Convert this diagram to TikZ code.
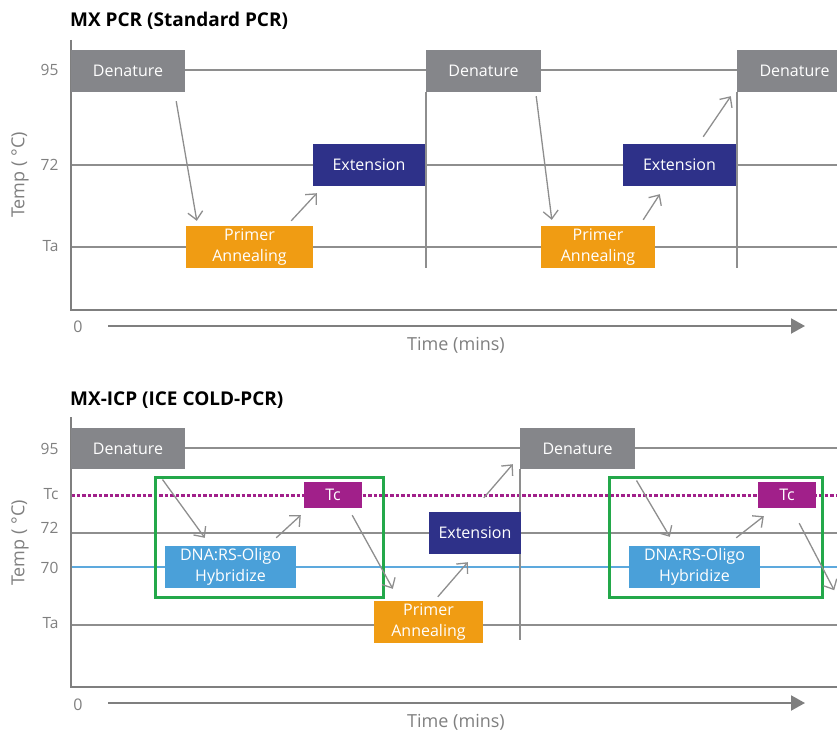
\documentclass[tikz,border=0pt]{standalone}
\usepackage{fontspec}
\setmainfont{Open Sans}
\usetikzlibrary{positioning, calc, arrows.meta}

\definecolor{boxgray}{HTML}{85868A}
\definecolor{annorange}{HTML}{F09C13}
\definecolor{extnavy}{HTML}{2E3189}
\definecolor{hybblue}{HTML}{4AA0D9}
\definecolor{tcpurple}{HTML}{A1208A}
\definecolor{wingreen}{HTML}{23A84A}
\definecolor{linegray}{HTML}{8E8E8E}
\definecolor{labelgray}{HTML}{7F7F7F}
\definecolor{seventyblue}{HTML}{5DA9DD}

\begin{document}
\begin{tikzpicture}[x=1pt, y=-1pt,
    stepbox/.style={rectangle, inner sep=0pt, text=white, align=center, font=\fontsize{16}{21}\selectfont},
    level/.style={linegray, line width=1.3pt},
    axis/.style={labelgray, line width=2.6pt},
    ticklabel/.style={anchor=east, text=labelgray, font=\fontsize{15.5}{18}\selectfont},
    axislabel/.style={text=labelgray, font=\fontsize{18}{20}\selectfont},
    title/.style={anchor=base west, inner sep=0pt, font=\fontsize{19}{22}\selectfont\bfseries},
    flow/.style={-{Straight Barb[length=8pt, width=15pt]}, linegray, line width=1.3pt},
    window/.style={draw=wingreen, line width=3pt, inner sep=0pt}]
    \useasboundingbox (0,0) rectangle (837,733);
    \clip (0,0) rectangle (837,733);

    % standard PCR
    \node [title] at (70,27) {MX PCR (Standard PCR)};
    \draw [level] (71,70) -- (837,70);
    \draw [level] (71,165) -- (837,165);
    \draw [level] (71,247) -- (837,247);
    \draw [level] (426,92) -- (426,268);
    \draw [level] (737,92) -- (737,268);
    \draw [axis] (71,40) -- (71,310) -- (837,310);
    \node [ticklabel] at (62,70) {95};
    \node [ticklabel] at (62,165) {72};
    \node [ticklabel] at (62,246) {Ta};
    \node [axislabel, rotate=90] at (20,175) {Temp ( °C)};
    \node [axislabel, font=\fontsize{16}{18}\selectfont] at (78,327) {0};
    \draw [labelgray, line width=2pt, -{Triangle[length=14pt, width=15pt]}] (108,326) -- (805,326);
    \node [axislabel] at (456,345) {Time (mins)};

    \node (den1) [stepbox, fill=boxgray, minimum width=114pt, minimum height=42pt] at (128,71) {Denature};
    \node (ann1) [stepbox, fill=annorange, minimum width=127pt, minimum height=42pt] at (249.5,247) {Primer\\Annealing};
    \node (ext1) [stepbox, fill=extnavy, minimum width=112pt, minimum height=42pt] at (369,165) {Extension};
    \node (den2) [stepbox, fill=boxgray, minimum width=115pt, minimum height=42pt] at (483.5,71) {Denature};
    \node (ann2) [stepbox, fill=annorange, minimum width=114pt, minimum height=42pt] at (598,247) {Primer\\Annealing};
    \node (ext2) [stepbox, fill=extnavy, minimum width=113pt, minimum height=42pt] at (679.5,165) {Extension};
    \node (den3) [stepbox, fill=boxgray, minimum width=115pt, minimum height=42pt] at (794.5,71) {Denature};

    \draw [flow] ($(den1.south east)+(-9,9)$) -- ($(ann1.north west)+(11,-5)$);
    \draw [flow] ($(ann1.north east)+(-22,-5)$) -- ($(ext1.south west)+(4,7)$);
    \draw [flow] ($(den2.south east)+(-5,4)$) -- ($(ann2.north west)+(11,-6)$);
    \draw [flow] ($(ann2.north east)+(-12,-6)$) -- ($(ext2.south west)+(37,8)$);
    \draw [flow] ($(ext2.north east)+(-33,-7)$) -- ($(den3.south west)+(-6,4)$);

    % ICE COLD-PCR
    \node [title] at (70,405) {MX-ICP (ICE COLD-PCR)};
    \draw [level] (71,448) -- (837,448);
    \draw [level] (71,533) -- (837,533);
    \draw [seventyblue, line width=1.3pt] (71,567) -- (837,567);
    \draw [level] (71,625) -- (837,625);
    \draw [tcpurple, line width=3pt, dash pattern=on 3.5pt off 2pt] (71,495) -- (837,495);
    \draw [level] (520,469) -- (520,640);
    \draw [axis] (71,417) -- (71,687) -- (837,687);
    \node [ticklabel] at (62,449) {95};
    \node [ticklabel] at (62,494) {Tc};
    \node [ticklabel] at (62,528) {72};
    \node [ticklabel] at (62,568) {70};
    \node [ticklabel] at (62,623) {Ta};
    \node [axislabel, rotate=90] at (20,543) {Temp ( °C)};
    \node [axislabel, font=\fontsize{16}{18}\selectfont] at (78,705) {0};
    \draw [labelgray, line width=2pt, -{Triangle[length=14pt, width=15pt]}] (108,703) -- (805,703);
    \node [axislabel] at (456,722) {Time (mins)};

    \node (win1) [window, minimum width=228pt, minimum height=120pt] at (269,537) {};
    \node (win2) [window, minimum width=213pt, minimum height=120pt] at (715.5,537) {};
    \node (den4) [stepbox, fill=boxgray, minimum width=114pt, minimum height=41pt] at (128,448.5) {Denature};
    \node (hyb1) [stepbox, fill=hybblue, minimum width=131pt, minimum height=42pt] at (230.5,567) {DNA:RS-Oligo\\Hybridize};
    \node (tc1) [stepbox, fill=tcpurple, minimum width=58pt, minimum height=26pt] at (333,495) {Tc};
    \node (ann3) [stepbox, fill=annorange, minimum width=109pt, minimum height=42pt] at (428.5,622) {Primer\\Annealing};
    \node (ext3) [stepbox, fill=extnavy, minimum width=92pt, minimum height=42pt] at (475,533) {Extension};
    \node (den5) [stepbox, fill=boxgray, minimum width=115pt, minimum height=41pt] at (577.5,448.5) {Denature};
    \node (hyb2) [stepbox, fill=hybblue, minimum width=131pt, minimum height=42pt] at (694.5,567) {DNA:RS-Oligo\\Hybridize};
    \node (tc2) [stepbox, fill=tcpurple, minimum width=58pt, minimum height=26pt] at (787,495) {Tc};

    \draw [flow] ($(win1.north west)+(9,4)$) -- ($(hyb1.north west)+(40,-8)$);
    \draw [flow] ($(hyb1.north east)+(-20,-8)$) -- ($(tc1.south west)+(-3,7)$);
    \draw [flow] ($(tc1.south east)+(-10,7)$) -- ($(ann3.north west)+(19,-12)$);
    \draw [flow] ($(ann3.north west)+(64,-4)$) -- ($(ext3.south west)+(39,8)$);
    \draw [flow] ($(ext3.north west)+(55,-14)$) -- ($(den5.south west)+(-7,-5)$);
    \draw [flow] ($(win2.north west)+(29,5)$) -- ($(hyb2.north west)+(41,-9)$);
    \draw [flow] ($(hyb2.north east)+(-24,-8)$) -- ($(tc2.south west)+(6,8)$);
    \draw [flow] ($(tc2.south east)+(-17,15)$) -- ($(tc2.south east)+(18,82)$);
\end{tikzpicture}
\end{document}
